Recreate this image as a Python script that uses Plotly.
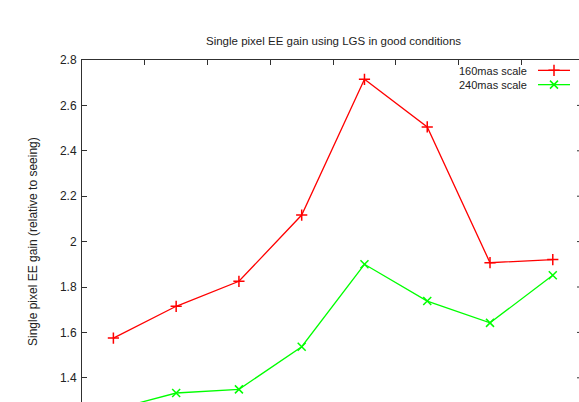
import plotly.graph_objects as go

# Measurement positions (one per case) and the two series
positions = [1, 2, 3, 4, 5, 6, 7, 8]
gain_160mas = [1.575, 1.715, 1.825, 2.117, 2.715, 2.505, 1.907, 1.921]
gain_240mas = [1.26, 1.333, 1.349, 1.537, 1.90, 1.738, 1.642, 1.852]

series_names = ["160mas scale", "240mas scale"]
series_colors = ["#ff0000", "#00ff00"]
series_symbols = ["cross-thin-open", "x-thin-open"]

y_ticks = [1.4, 1.6, 1.8, 2.0, 2.2, 2.4, 2.6, 2.8]
y_tick_text = ["1.4", "1.6", "1.8", "2", "2.2", "2.4", "2.6", "2.8"]

title_text = "Single pixel EE gain using LGS in good conditions"
y_title = "Single pixel EE gain (relative to seeing)"

FONT = "Liberation Sans, Arial, Helvetica, sans-serif"
TEXT = "#222222"
AXIS = "#303030"

W, H = 579, 402
ML, MT = 82, 60
PX_PER_X = 62.77      # pixels per category step
PX_PER_Y = 227.0      # pixels per unit of gain

x_hi = 0.5 + (W - ML) / PX_PER_X
y_lo = 2.8 - (H - MT) / PX_PER_Y

fig = go.Figure()

for vals, name, col, sym in zip([gain_160mas, gain_240mas], series_names,
                                series_colors, series_symbols):
    fig.add_trace(go.Scatter(
        x=positions, y=vals, name=name, mode="lines+markers",
        line=dict(color=col, width=1.3),
        marker=dict(symbol=sym, size=8, color=col, line=dict(color=col, width=1.5)),
        showlegend=False, cliponaxis=True,
    ))

# Key drawn gnuplot-style (text, then sample) on a pixel-scaled overlay axis
KEY_FONT = 11
key_center = 77.5
key_step = 1.3 * KEY_FONT
key_rows = [key_center - key_step / 2, key_center + key_step / 2]
for row, col, sym in zip(key_rows, series_colors, series_symbols):
    fig.add_trace(go.Scatter(
        x=[538, 570], y=[row, row], mode="lines", xaxis="x2", yaxis="y2",
        line=dict(color=col, width=1.3), showlegend=False, hoverinfo="skip",
    ))
    fig.add_trace(go.Scatter(
        x=[554], y=[row], mode="markers", xaxis="x2", yaxis="y2",
        marker=dict(symbol=sym, size=8, color=col, line=dict(color=col, width=1.5)),
        showlegend=False, hoverinfo="skip",
    ))

# Right-border tick stubs at the chart edge
shapes = []
for yv in y_ticks[:-1]:
    shapes.append(dict(type="line", xref="paper", yref="y",
                       x0=(577 - ML) / (W - ML), x1=1.0, y0=yv, y1=yv,
                       line=dict(color=AXIS, width=1)))

fig.update_layout(
    width=W, height=H,
    margin=dict(l=ML, r=0, t=MT, b=0, pad=0),
    paper_bgcolor="white", plot_bgcolor="white",
    font=dict(family=FONT, size=12, color=TEXT),
    shapes=shapes,
    xaxis=dict(
        range=[0.5, x_hi], side="top", showgrid=False, zeroline=False,
        showline=True, linecolor=AXIS, linewidth=1,
        ticks="inside", ticklen=5, tickcolor=AXIS, tickwidth=1,
        tickvals=[1.5, 2.5, 3.5, 4.5, 5.5, 6.5, 7.5], showticklabels=False,
    ),
    yaxis=dict(
        range=[y_lo, 2.8], showgrid=False, zeroline=False,
        showline=True, linecolor=AXIS, linewidth=1,
        ticks="inside", ticklen=5, tickcolor=AXIS, tickwidth=1,
        tickvals=y_ticks, ticktext=y_tick_text, ticklabelstandoff=2,
        tickfont=dict(family=FONT, size=12, color=TEXT),
    ),
    xaxis2=dict(range=[ML, W], overlaying="x", visible=False, fixedrange=True),
    yaxis2=dict(range=[H, MT], overlaying="y", visible=False, fixedrange=True),
    annotations=[
        dict(text="<br>".join(series_names), x=529, xref="x2", y=key_center, yref="y2",
             showarrow=False, xanchor="right", yanchor="middle", align="right",
             font=dict(family=FONT, size=KEY_FONT, color=TEXT)),
        dict(text=title_text, x=4.5, xref="x", y=1 + (MT - 41) / (H - MT), yref="paper",
             showarrow=False, xanchor="center", yanchor="middle",
             font=dict(family=FONT, size=11.5, color=TEXT)),
        dict(text=y_title, x=(33 - ML) / (W - ML), xref="paper",
             y=(H - 242) / (H - MT), yref="paper", textangle=-90,
             showarrow=False, xanchor="center", yanchor="middle",
             font=dict(family=FONT, size=12, color=TEXT)),
    ],
)

fig.write_html("out.html", config={"displayModeBar": False})
